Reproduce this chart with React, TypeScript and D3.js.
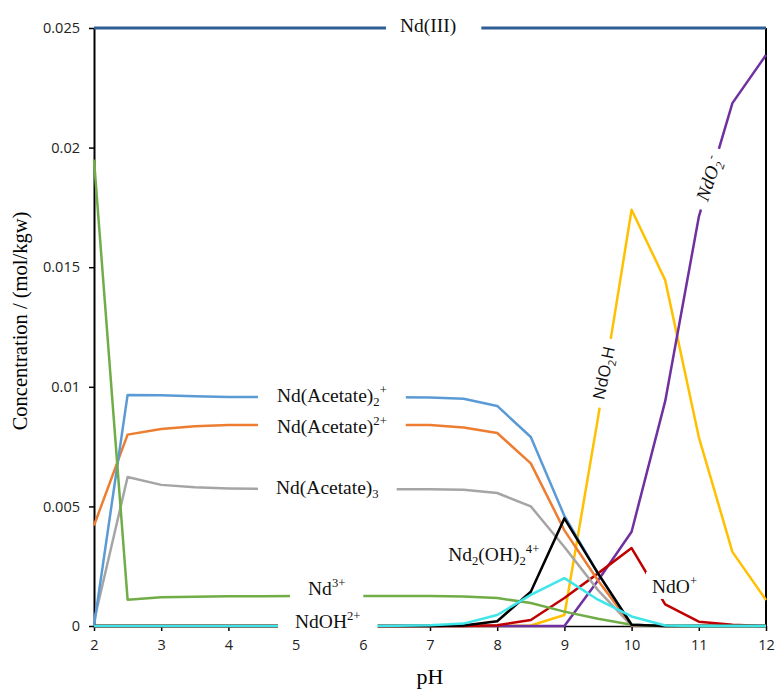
import React, { useRef, useEffect } from "react";
import * as d3 from "d3";

// pH steps of the speciation run
const pH = [2, 2.5, 3, 3.5, 4, 4.5, 5, 5.5, 6, 6.5, 7, 7.5, 8, 8.5, 9, 9.5, 10, 10.5, 11, 11.5, 12];

const ndIII = [0.025, 0.025, 0.025, 0.025, 0.025, 0.025, 0.025, 0.025, 0.025, 0.025, 0.025, 0.025, 0.025, 0.025, 0.025, 0.025, 0.025, 0.025, 0.025, 0.025, 0.025];
const ndAc2 = [0, 0.00966, 0.00965, 0.0096, 0.00957, 0.00957, 0.00957, 0.00957, 0.00956, 0.00956, 0.00955, 0.0095, 0.0092, 0.0079, 0.0046, 0.0022, 0.00005, 0, 0, 0, 0];
const ndAc = [0.0042, 0.008, 0.00824, 0.00835, 0.0084, 0.0084, 0.0084, 0.0084, 0.0084, 0.0084, 0.0084, 0.0083, 0.00807, 0.0068, 0.004, 0.0019, 0.00003, 0, 0, 0, 0];
const ndAc3 = [0.0002, 0.00623, 0.0059, 0.0058, 0.00575, 0.00573, 0.00572, 0.00572, 0.00572, 0.00572, 0.00572, 0.0057, 0.00556, 0.005, 0.0033, 0.0015, 0.00002, 0, 0, 0, 0];
const nd3 = [0.0195, 0.0011, 0.0012, 0.00122, 0.00124, 0.00124, 0.00125, 0.00125, 0.00125, 0.00125, 0.00125, 0.00123, 0.00117, 0.00096, 0.0006, 0.0003, 0.00005, 0, 0, 0, 0];
const ndOH = [0, 0, 0, 0, 0, 0, 0, 0, 0, 0.00001, 0.00003, 0.0001, 0.00046, 0.0013, 0.002, 0.0011, 0.0004, 0.00002, 0, 0, 0];
const nd2OH2 = [0, 0, 0, 0, 0, 0, 0, 0, 0, 0, 0, 0.00002, 0.0002, 0.00143, 0.0045, 0.0022, 0.00005, 0, 0, 0, 0];
const ndO = [0, 0, 0, 0, 0, 0, 0, 0, 0, 0, 0, 0, 0.00003, 0.00025, 0.00117, 0.0022, 0.00326, 0.0009, 0.00018, 0.00005, 0];
const ndO2H = [0, 0, 0, 0, 0, 0, 0, 0, 0, 0, 0, 0, 0, 0.00002, 0.00046, 0.0087, 0.0174, 0.01446, 0.0079, 0.0031, 0.00109];
const ndO2 = [0, 0, 0, 0, 0, 0, 0, 0, 0, 0, 0, 0, 0, 0, 0, 0.0019, 0.00394, 0.0094, 0.0171, 0.02186, 0.02387];

const xTicks = [2, 3, 4, 5, 6, 7, 8, 9, 10, 11, 12];
const yTicks = [0, 0.005, 0.01, 0.015, 0.02, 0.025];

const series = [
  { values: ndO2H, color: "#ffc000" },
  { values: ndO2, color: "#7030a0" },
  { values: ndO, color: "#c00000" },
  { values: ndAc3, color: "#a5a5a5" },
  { values: ndAc, color: "#ed7d31" },
  { values: ndAc2, color: "#5b9bd5" },
  { values: nd3, color: "#70ad47" },
  { values: nd2OH2, color: "#000000" },
  { values: ndOH, color: "#3ee6ea" },
  { values: ndIII, color: "#2f5f95", width: 3 },
];

const serif = "'Liberation Serif', 'Times New Roman', serif";

// text parts: [string, "n" | "sub" | "sup"]
const labels = [
  { parts: [["Nd(III)", "n"]], x: 6.554, y: 0.02483, padL: 14, padR: 25, padY: 2 },
  { parts: [["Nd(Acetate)", "n"], ["2", "sub"], ["+", "sup"]], x: 4.723, y: 0.009365, padL: 19, padR: 19, padY: 2 },
  { parts: [["Nd(Acetate)", "n"], ["2+", "sup"]], x: 4.723, y: 0.008069, padL: 19, padR: 19, padY: 2 },
  { parts: [["Nd(Acetate)", "n"], ["3", "sub"]], x: 4.708, y: 0.005518, padL: 18, padR: 18, padY: 2 },
  { parts: [["Nd", "n"], ["3+", "sup"]], x: 5.185, y: 0.001296, padL: 18, padR: 18, padY: 2 },
  { parts: [["NdOH", "n"], ["2+", "sup"]], x: 4.991, y: -0.00008, padL: 17, padR: 17, padY: 3 },
  { parts: [["Nd", "n"], ["2", "sub"], ["(OH)", "n"], ["2", "sub"], ["4+", "sup"]], x: 7.27, y: 0.002717, padL: 1, padR: -3, padY: -2 },
  { parts: [["NdO", "n"], ["+", "sup"]], x: 10.304, y: 0.00138, padL: 6, padR: 6, padY: 2 },
  { parts: [["NdO", "n"], ["2", "sub"], ["H", "n"]], x: 9.589, y: 0.010577, rotate: -78, center: true, padL: 8, padR: 8, padY: 1, font: "'Open Sans', sans-serif", size: 16.5 },
  { parts: [["NdO", "n"], ["2", "sub"], ["-", "sup"]], x: 11.158, y: 0.018687, rotate: -71, center: true, padL: 8, padR: 8, padY: 1, italic: true, size: 19 },
];

const App = () => {
  const svgRef = useRef(null);

  useEffect(() => {
    const svg = d3.select(svgRef.current);
    svg.selectAll("*").remove();

    const x = d3.scaleLinear().domain([2, 12]).range([94, 766]);
    const y = d3.scaleLinear().domain([0, 0.025]).range([626, 28]);

    // axes
    const yAxis = svg.append("g")
      .attr("transform", `translate(${x(2)},0)`)
      .call(d3.axisLeft(y).tickValues(yTicks).tickSize(5).tickSizeOuter(0).tickFormat((d) => (d === 0 ? "0" : String(d))));
    yAxis.select(".domain").attr("stroke", "#000").attr("stroke-width", 2);
    yAxis.selectAll(".tick line").attr("stroke", "#000").attr("stroke-width", 1.5);
    yAxis.selectAll(".tick text")
      .attr("x", -14)
      .attr("font-family", "'Open Sans', sans-serif")
      .attr("font-size", 14.5)
      .attr("fill", "#222");

    const xAxis = svg.append("g")
      .attr("transform", `translate(0,${y(0)})`)
      .call(d3.axisBottom(x).tickValues(xTicks).tickSize(5).tickSizeOuter(0).tickFormat(d3.format("d")));
    xAxis.select(".domain").attr("stroke", "#000").attr("stroke-width", 1.5);
    xAxis.selectAll(".tick line").attr("stroke", "#000").attr("stroke-width", 1.5);
    xAxis.selectAll(".tick text")
      .attr("y", 14)
      .attr("font-family", "'Open Sans', sans-serif")
      .attr("font-size", 14.5)
      .attr("fill", "#222");

    svg.append("line")
      .attr("x1", x(12)).attr("x2", x(12))
      .attr("y1", y(0.025)).attr("y2", y(0))
      .attr("stroke", "#000").attr("stroke-width", 2);

    // series lines
    const line = d3.line().x((d) => x(d[0])).y((d) => y(d[1]));
    series.forEach((s) => {
      svg.append("path")
        .datum(pH.map((p, i) => [p, s.values[i]]))
        .attr("d", line)
        .attr("fill", "none")
        .attr("stroke", s.color)
        .attr("stroke-width", s.width || 2.5)
        .attr("stroke-linejoin", "round");
    });

    // species labels on a white patch
    labels.forEach((l) => {
      const size = l.size || 19.5;
      const g = svg.append("g")
        .attr("transform", `translate(${x(l.x)},${y(l.y)}) rotate(${l.rotate || 0})`);
      const bg = g.append("rect").attr("fill", "#fff");
      const t = g.append("text")
        .attr("font-family", l.font || serif)
        .attr("font-size", size)
        .attr("font-style", l.italic ? "italic" : "normal")
        .attr("fill", "#111");
      l.parts.forEach(([str, kind]) => {
        const ts = t.append("tspan").text(str);
        if (kind === "sub") ts.attr("font-size", size * 0.65).attr("baseline-shift", -size * 0.22);
        if (kind === "sup") ts.attr("font-size", size * 0.65).attr("baseline-shift", size * 0.42);
      });
      let bb = t.node().getBBox();
      if (l.center) {
        t.attr("transform", `translate(${-bb.x - bb.width / 2},${-bb.y - bb.height / 2})`);
        bb = { x: -bb.width / 2, y: -bb.height / 2, width: bb.width, height: bb.height };
      }
      bg.attr("x", bb.x - l.padL).attr("y", bb.y - l.padY)
        .attr("width", Math.max(0, bb.width + l.padL + l.padR))
        .attr("height", Math.max(0, bb.height + 2 * l.padY));
    });

    // axis titles
    svg.append("text")
      .attr("x", 430).attr("y", 684)
      .attr("text-anchor", "middle")
      .attr("font-family", serif).attr("font-size", 22)
      .text("pH");
    svg.append("text")
      .attr("transform", "translate(27,321) rotate(-90)")
      .attr("text-anchor", "middle")
      .attr("font-family", serif).attr("font-size", 20.5)
      .text("Concentration / (mol/kgw)");
  }, []);

  return (
    <svg ref={svgRef} width={776} height={689}
      style={{ position: "absolute", left: 0, top: 0, background: "#fff" }} />
  );
};

export default App;
